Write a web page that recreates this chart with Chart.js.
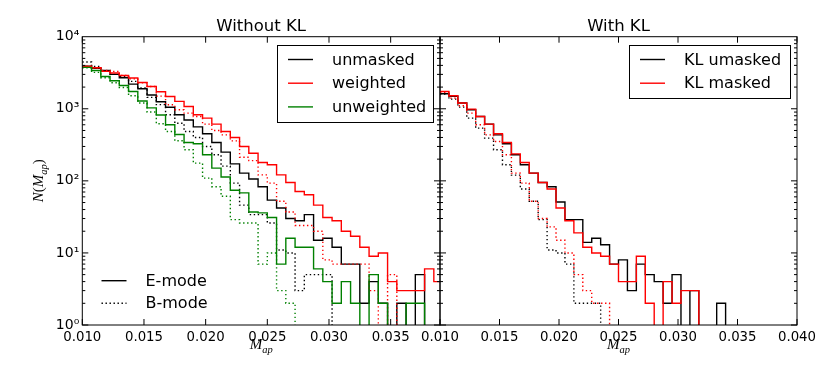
<!DOCTYPE html>
<html lang="en">
<head>
<meta charset="UTF-8">
<title>Map histograms</title>
<script src="https://cdn.jsdelivr.net/npm/chart.js@4.4.1/dist/chart.umd.min.js"></script>
<style>
  body { margin: 0; background: #fff; }
  #wrap { position: relative; width: 830px; height: 374px; background: #fff; }
  canvas { position: absolute; top: 0; }
  #left { left: 0; }
  #right { left: 400px; }
</style>
</head>
<body>
<div id="wrap">
  <canvas id="left" width="450" height="374"></canvas>
  <canvas id="right" width="430" height="374"></canvas>
</div>
<script>
// bin edges of the M_ap histograms
const binEdges = [0.01000, 0.01075, 0.01150, 0.01225, 0.01300, 0.01375, 0.01450, 0.01525, 0.01600, 0.01675,
                  0.01750, 0.01825, 0.01900, 0.01975, 0.02050, 0.02125, 0.02200, 0.02275, 0.02350, 0.02425,
                  0.02500, 0.02575, 0.02650, 0.02725, 0.02800, 0.02875, 0.02950, 0.03025, 0.03100, 0.03175,
                  0.03250, 0.03325, 0.03400, 0.03475, 0.03550, 0.03625, 0.03700, 0.03775, 0.03850, 0.03925, 0.04000];
const leftXTicks = [0.010, 0.015, 0.020, 0.025, 0.030, 0.035];
const rightXTicks = [0.010, 0.015, 0.020, 0.025, 0.030, 0.035, 0.040];
const yTicks = [1, 10, 100, 1000, 10000];

// Without KL (counts per bin)
const unmaskedE   = [3900, 3650, 3400, 3000, 2700, 2200, 1900, 1550, 1250, 1050, 825, 700, 560, 450, 340, 250, 172, 128, 106, 83, 54, 42, 30, 28, 34, 15, 16, 12, 7, 7, 2, 4, 2, 0, 2, 0, 5, 0, 0];
const unmaskedB   = [4450, 3870, 3300, 3000, 2800, 2400, 1940, 1440, 1140, 825, 630, 485, 400, 300, 230, 160, 93, 46, 34, 34, 26, 11, 10, 3, 5, 5, 5, 0, 0, 0, 0, 0, 0, 0, 0, 0, 0, 0, 0];
const weightedE   = [3870, 3700, 3300, 3130, 2900, 2670, 2320, 2040, 1720, 1480, 1265, 1077, 825, 742, 613, 485, 400, 300, 242, 180, 167, 121, 95, 71, 64, 46, 31, 28, 20, 17, 12, 9, 10, 4, 3, 3, 3, 6, 4];
const weightedB   = [3900, 3700, 3400, 3300, 2900, 2600, 2300, 2040, 1500, 1136, 968, 870, 783, 613, 500, 435, 359, 213, 191, 121, 93, 52, 37, 24, 24, 20, 8, 7, 7, 7, 7, 3, 0, 5, 0, 0, 0, 0, 0];
const unweightedE = [3750, 3400, 2800, 2450, 2100, 1740, 1280, 1030, 820, 600, 440, 340, 327, 230, 150, 113, 74, 68, 37, 36, 31, 7, 16, 12, 12, 6, 4, 2, 4, 2, 0, 5, 2, 0, 0, 2, 2, 0, 0];
const unweightedB = [3700, 3200, 2700, 2300, 1977, 1516, 1200, 900, 620, 485, 360, 270, 176, 109, 83, 61, 29, 26, 26, 7, 10, 3, 2, 0, 0, 0, 0, 0, 0, 0, 0, 0, 0, 0, 0, 0, 0, 0, 0];

// With KL (counts per bin)
const klUmaskedE = [1616, 1490, 1200, 968, 783, 613, 435, 327, 230, 167, 128, 95, 83, 51, 29, 29, 14, 16, 13, 7, 8, 3, 7, 5, 4, 2, 5, 0, 3, 0, 0, 2, 0, 0, 0, 0, 0, 0, 0, 0];
const klUmaskedB = [1600, 1362, 1055, 741, 539, 392, 270, 167, 120, 77, 52, 29, 11, 10, 7, 2, 2, 2, 0, 0, 0, 0, 0, 0, 0, 0, 0, 0, 0, 0, 0, 0, 0, 0, 0, 0, 0, 0, 0, 0];
const klMaskedE  = [1738, 1516, 1200, 990, 783, 613, 450, 340, 237, 180, 128, 95, 77, 42, 28, 19, 12, 10, 9, 7, 4, 4, 9, 2, 0, 4, 2, 3, 3, 0, 0, 0, 0, 0, 0, 0, 0, 0, 0, 0];
const klMaskedB  = [1690, 1406, 1101, 871, 600, 435, 352, 230, 128, 93, 52, 30, 23, 15, 10, 5, 3, 2, 2, 0, 0, 0, 0, 0, 0, 0, 0, 0, 0, 0, 0, 0, 0, 0, 0, 0, 0, 0, 0, 0];

const BLACK = '#000000', RED = '#ff0000', GREEN = '#008000';
const DOTS = [1.4, 2.6];
const SANS = '"DejaVu Sans", sans-serif';

// empty bins sit below the log axis and get clipped, like matplotlib
function stepPoints(counts) {
  const pts = counts.map((c, i) => ({ x: binEdges[i], y: c > 0 ? c : 0.5 }));
  const last = counts[counts.length - 1];
  pts.push({ x: binEdges[counts.length], y: last > 0 ? last : 0.5 });
  return pts;
}

function hist(label, counts, color, dotted) {
  return {
    label: label,
    data: stepPoints(counts),
    borderColor: color,
    borderWidth: 1.4,
    borderDash: dotted ? DOTS : [],
    stepped: true,
    pointRadius: 0,
    fill: false
  };
}

function sup(v) {
  const digits = { '0': '\u2070', '1': '\u00b9', '2': '\u00b2', '3': '\u00b3', '4': '\u2074' };
  return '10' + digits[String(Math.round(Math.log10(v)))];
}

// math-like label: pieces of [text, italic, subscript]
function drawMath(ctx, parts, cx, cy, size) {
  let w = 0;
  const fontOf = p => (p[1] ? 'italic ' : '') + (p[2] ? size * 0.7 : size) + 'px "Liberation Serif", serif';
  parts.forEach(p => { ctx.font = fontOf(p); w += ctx.measureText(p[0]).width; });
  let x = cx - w / 2;
  ctx.textAlign = 'left';
  ctx.textBaseline = 'alphabetic';
  parts.forEach(p => {
    ctx.font = fontOf(p);
    ctx.fillText(p[0], x, cy + (p[2] ? size * 0.28 : 0));
    x += ctx.measureText(p[0]).width;
  });
}

function line(ctx, x1, y1, x2, y2, dash) {
  ctx.setLineDash(dash || []);
  ctx.beginPath();
  ctx.moveTo(x1, y1);
  ctx.lineTo(x2, y2);
  ctx.stroke();
}

const decor = {
  id: 'decor',
  afterDatasetsDraw(chart, args, opts) {
    const ctx = chart.ctx, a = chart.chartArea;
    const x = chart.scales.x, y = chart.scales.y;
    ctx.save();
    ctx.strokeStyle = '#000';
    ctx.lineWidth = 1;
    ctx.strokeRect(a.left, a.top, a.right - a.left, a.bottom - a.top);
    // inward ticks on all four sides
    opts.xTicks.forEach(v => {
      const px = x.getPixelForValue(v);
      line(ctx, px, a.bottom, px, a.bottom - 6);
      line(ctx, px, a.top, px, a.top + 6);
    });
    for (let e = 0; e < 4; e++) {
      for (let m = 1; m < 10; m++) {
        const py = y.getPixelForValue(m * Math.pow(10, e));
        const len = m === 1 ? 6 : 3;
        line(ctx, a.left, py, a.left + len, py);
        line(ctx, a.right, py, a.right - len, py);
      }
    }
    // title
    ctx.fillStyle = '#000';
    ctx.font = '16.5px ' + SANS;
    ctx.textAlign = 'center';
    ctx.textBaseline = 'alphabetic';
    ctx.fillText(opts.title, (a.left + a.right) / 2, 31);
    // axis labels
    drawMath(ctx, [['M', true, false], ['ap', true, true]], (a.left + a.right) / 2, 349, 15);
    if (opts.yLabel) {
      ctx.save();
      ctx.translate(38, (a.top + a.bottom) / 2);
      ctx.rotate(-Math.PI / 2);
      drawMath(ctx, [['N', true, false], ['(', false, false], ['M', true, false], ['ap', true, true], [')', false, false]], 0, 5, 15);
      ctx.restore();
    }
    // legends
    opts.legends.forEach(lg => {
      if (lg.box) {
        ctx.fillStyle = '#fff';
        ctx.fillRect(lg.box[0], lg.box[1], lg.box[2], lg.box[3]);
        ctx.strokeStyle = '#000';
        ctx.setLineDash([]);
        ctx.strokeRect(lg.box[0] + 0.5, lg.box[1] + 0.5, lg.box[2], lg.box[3]);
      }
      lg.items.forEach((it, i) => {
        const yy = lg.y + i * lg.dy;
        ctx.strokeStyle = it.color;
        ctx.lineWidth = 1.4;
        line(ctx, lg.x, yy, lg.x + 25, yy, it.dotted ? DOTS : null);
        ctx.fillStyle = '#000';
        ctx.font = '16px ' + SANS;
        ctx.textAlign = 'left';
        ctx.textBaseline = 'middle';
        ctx.fillText(it.text, lg.x + 44, yy + 1);
      });
    });
    ctx.restore();
  }
};

function options(xMax, xTicks, showY, pad, yWidth, decorOpts) {
  return {
    responsive: false,
    animation: false,
    events: [],
    layout: { padding: pad },
    plugins: { legend: { display: false }, tooltip: { enabled: false }, decor: decorOpts },
    scales: {
      x: {
        type: 'linear', min: 0.010, max: xMax,
        afterBuildTicks: s => { s.ticks = xTicks.map(v => ({ value: v })); },
        afterFit: s => { s.height = 49; },
        grid: { display: false, drawTicks: false },
        border: { display: false },
        ticks: { callback: v => v.toFixed(3), color: '#000', font: { family: SANS, size: 13.3 }, maxRotation: 0, autoSkip: false, padding: 5 }
      },
      y: {
        type: 'logarithmic', min: 1, max: 10000,
        afterBuildTicks: s => { s.ticks = yTicks.map(v => ({ value: v })); },
        afterFit: s => { s.width = yWidth; },
        grid: { display: false, drawTicks: false },
        border: { display: false },
        ticks: { display: showY, callback: v => sup(v), color: '#000', font: { family: SANS, size: 14 }, padding: 3 }
      }
    }
  };
}

new Chart(document.getElementById('left'), {
  type: 'line',
  data: {
    datasets: [
      hist('unweighted B', unweightedB, GREEN, true),
      hist('unweighted', unweightedE, GREEN, false),
      hist('weighted B', weightedB, RED, true),
      hist('weighted', weightedE, RED, false),
      hist('unmasked B', unmaskedB, BLACK, true),
      hist('unmasked', unmaskedE, BLACK, false)
    ]
  },
  options: options(0.039, leftXTicks, true, { left: 0, top: 36.7, right: 10, bottom: 0 }, 82.3, {
    title: 'Without KL',
    xTicks: leftXTicks,
    yLabel: true,
    legends: [
      { box: [277, 45, 156, 77], x: 288, y: 59.5, dy: 23.7, items: [
        { text: 'unmasked', color: BLACK }, { text: 'weighted', color: RED }, { text: 'unweighted', color: GREEN }] },
      { x: 101.5, y: 280.7, dy: 22.6, items: [
        { text: 'E-mode', color: BLACK }, { text: 'B-mode', color: BLACK, dotted: true }] }
    ]
  }),
  plugins: [decor]
});

new Chart(document.getElementById('right'), {
  type: 'line',
  data: {
    datasets: [
      hist('KL masked B', klMaskedB, RED, true),
      hist('KL masked', klMaskedE, RED, false),
      hist('KL umasked B', klUmaskedB, BLACK, true),
      hist('KL umasked', klUmaskedE, BLACK, false)
    ]
  },
  options: options(0.040, rightXTicks, false, { left: 40, top: 36.7, right: 33, bottom: 0 }, 0, {
    title: 'With KL',
    xTicks: rightXTicks,
    yLabel: false,
    legends: [
      { box: [229, 45, 161, 53], x: 240, y: 59.5, dy: 23.7, items: [
        { text: 'KL umasked', color: BLACK }, { text: 'KL masked', color: RED }] }
    ]
  }),
  plugins: [decor]
});
</script>
</body>
</html>
